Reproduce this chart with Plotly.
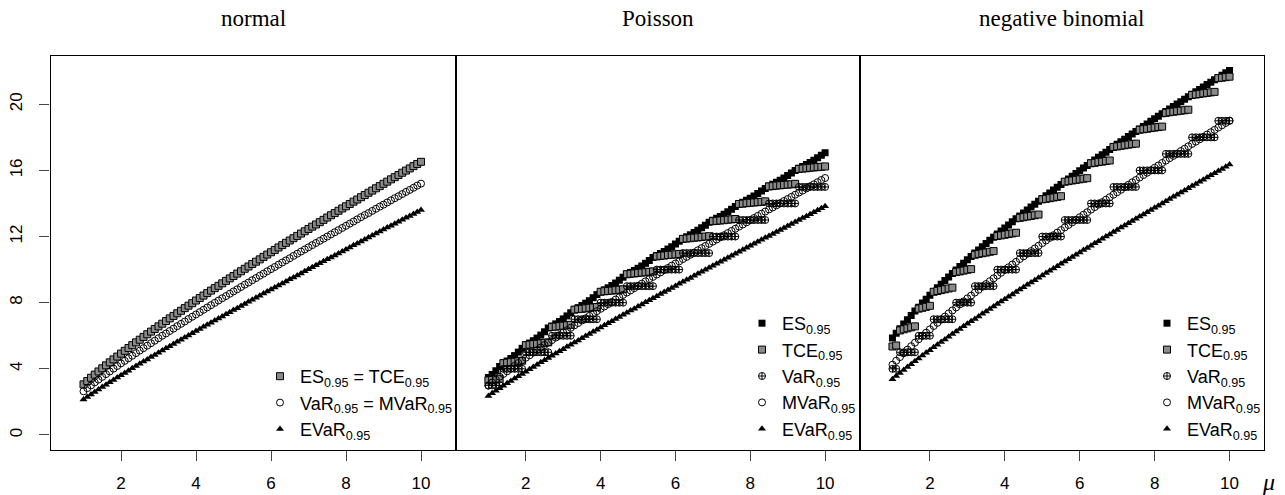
import plotly.graph_objects as go

# ---------------- data ----------------
mu = [1.0, 1.1, 1.2, 1.3, 1.4, 1.5, 1.6, 1.7, 1.8, 1.9,
      2.0, 2.1, 2.2, 2.3, 2.4, 2.5, 2.6, 2.7, 2.8, 2.9,
      3.0, 3.1, 3.2, 3.3, 3.4, 3.5, 3.6, 3.7, 3.8, 3.9,
      4.0, 4.1, 4.2, 4.3, 4.4, 4.5, 4.6, 4.7, 4.8, 4.9,
      5.0, 5.1, 5.2, 5.3, 5.4, 5.5, 5.6, 5.7, 5.8, 5.9,
      6.0, 6.1, 6.2, 6.3, 6.4, 6.5, 6.6, 6.7, 6.8, 6.9,
      7.0, 7.1, 7.2, 7.3, 7.4, 7.5, 7.6, 7.7, 7.8, 7.9,
      8.0, 8.1, 8.2, 8.3, 8.4, 8.5, 8.6, 8.7, 8.8, 8.9,
      9.0, 9.1, 9.2, 9.3, 9.4, 9.5, 9.6, 9.7, 9.8, 9.9,
      10.0]

# normal
normal_es = [3.06, 3.26, 3.46, 3.65, 3.84, 4.03, 4.21, 4.39, 4.57, 4.74,
             4.92, 5.09, 5.26, 5.43, 5.60, 5.76, 5.93, 6.09, 6.25, 6.41,
             6.57, 6.73, 6.89, 7.05, 7.20, 7.36, 7.51, 7.67, 7.82, 7.97,
             8.13, 8.28, 8.43, 8.58, 8.73, 8.88, 9.02, 9.17, 9.32, 9.47,
             9.61, 9.76, 9.90, 10.05, 10.19, 10.34, 10.48, 10.62, 10.77, 10.91,
             11.05, 11.19, 11.34, 11.48, 11.62, 11.76, 11.90, 12.04, 12.18, 12.32,
             12.46, 12.60, 12.73, 12.87, 13.01, 13.15, 13.29, 13.42, 13.56, 13.70,
             13.83, 13.97, 14.11, 14.24, 14.38, 14.51, 14.65, 14.78, 14.92, 15.05,
             15.19, 15.32, 15.46, 15.59, 15.72, 15.86, 15.99, 16.12, 16.26, 16.39,
             16.52]
normal_var = [2.64, 2.83, 3.00, 3.18, 3.35, 3.51, 3.68, 3.84, 4.01, 4.17,
              4.33, 4.48, 4.64, 4.79, 4.95, 5.10, 5.25, 5.40, 5.55, 5.70,
              5.85, 6.00, 6.14, 6.29, 6.43, 6.58, 6.72, 6.86, 7.01, 7.15,
              7.29, 7.43, 7.57, 7.71, 7.85, 7.99, 8.13, 8.27, 8.40, 8.54,
              8.68, 8.81, 8.95, 9.09, 9.22, 9.36, 9.49, 9.63, 9.76, 9.90,
              10.03, 10.16, 10.30, 10.43, 10.56, 10.69, 10.83, 10.96, 11.09, 11.22,
              11.35, 11.48, 11.61, 11.74, 11.87, 12.00, 12.13, 12.26, 12.39, 12.52,
              12.65, 12.78, 12.91, 13.04, 13.17, 13.30, 13.42, 13.55, 13.68, 13.81,
              13.93, 14.06, 14.19, 14.32, 14.44, 14.57, 14.70, 14.82, 14.95, 15.08,
              15.20]
normal_evar = [2.14, 2.30, 2.45, 2.60, 2.75, 2.90, 3.04, 3.19, 3.33, 3.47,
               3.61, 3.75, 3.89, 4.03, 4.17, 4.30, 4.44, 4.57, 4.71, 4.84,
               4.97, 5.11, 5.24, 5.37, 5.50, 5.63, 5.76, 5.89, 6.02, 6.15,
               6.28, 6.41, 6.54, 6.66, 6.79, 6.92, 7.05, 7.17, 7.30, 7.42,
               7.55, 7.67, 7.80, 7.92, 8.05, 8.17, 8.30, 8.42, 8.55, 8.67,
               8.79, 8.92, 9.04, 9.16, 9.28, 9.41, 9.53, 9.65, 9.77, 9.90,
               10.02, 10.14, 10.26, 10.38, 10.50, 10.62, 10.74, 10.86, 10.98, 11.10,
               11.22, 11.34, 11.47, 11.58, 11.70, 11.82, 11.94, 12.06, 12.18, 12.30,
               12.42, 12.54, 12.66, 12.78, 12.90, 13.01, 13.13, 13.25, 13.37, 13.49,
               13.61]

# Poisson
pois_es = [3.47, 3.65, 3.88, 4.14, 4.36, 4.48, 4.63, 4.80, 5.01, 5.24,
           5.45, 5.56, 5.70, 5.86, 6.04, 6.24, 6.47, 6.59, 6.72, 6.86,
           7.02, 7.20, 7.39, 7.59, 7.70, 7.83, 7.97, 8.12, 8.30, 8.49,
           8.67, 8.78, 8.90, 9.04, 9.19, 9.36, 9.54, 9.73, 9.83, 9.95,
           10.08, 10.22, 10.38, 10.55, 10.74, 10.86, 10.98, 11.10, 11.24, 11.39,
           11.55, 11.72, 11.88, 11.99, 12.11, 12.24, 12.38, 12.53, 12.69, 12.87,
           12.99, 13.10, 13.22, 13.35, 13.50, 13.65, 13.81, 13.98, 14.08, 14.20,
           14.32, 14.45, 14.60, 14.75, 14.91, 15.06, 15.17, 15.28, 15.41, 15.54,
           15.69, 15.84, 16.00, 16.13, 16.24, 16.36, 16.48, 16.62, 16.76, 16.91,
           17.07]
pois_tce = [3.30, 3.33, 3.36, 3.40, 4.34, 4.37, 4.40, 4.43, 4.46, 4.49,
            5.43, 5.46, 5.49, 5.51, 5.54, 5.57, 5.60, 6.53, 6.55, 6.58,
            6.61, 6.63, 6.66, 7.58, 7.61, 7.63, 7.66, 7.69, 7.71, 7.74,
            8.66, 8.69, 8.71, 8.73, 8.76, 8.78, 8.81, 9.72, 9.75, 9.77,
            9.79, 9.82, 9.84, 9.87, 9.89, 10.80, 10.83, 10.85, 10.88, 10.90,
            10.92, 10.95, 11.86, 11.88, 11.90, 11.93, 11.95, 11.97, 12.00, 12.02,
            12.93, 12.95, 12.97, 12.99, 13.02, 13.04, 13.06, 13.97, 13.99, 14.02,
            14.04, 14.06, 14.08, 14.10, 14.13, 15.03, 15.05, 15.08, 15.10, 15.12,
            15.14, 15.16, 15.19, 16.09, 16.11, 16.13, 16.16, 16.18, 16.20, 16.22,
            16.24]
pois_var = [3, 3, 3, 3, 4, 4, 4, 4, 4, 4,
            5, 5, 5, 5, 5, 5, 5, 6, 6, 6,
            6, 6, 6, 7, 7, 7, 7, 7, 7, 7,
            8, 8, 8, 8, 8, 8, 8, 9, 9, 9,
            9, 9, 9, 9, 9, 10, 10, 10, 10, 10,
            10, 10, 11, 11, 11, 11, 11, 11, 11, 11,
            12, 12, 12, 12, 12, 12, 12, 13, 13, 13,
            13, 13, 13, 13, 13, 14, 14, 14, 14, 14,
            14, 14, 14, 15, 15, 15, 15, 15, 15, 15,
            15]
pois_mvar = [2.98, 3.17, 3.34, 3.52, 3.69, 3.85, 4.02, 4.18, 4.35, 4.51,
             4.67, 4.82, 4.98, 5.13, 5.29, 5.44, 5.59, 5.74, 5.89, 6.04,
             6.19, 6.34, 6.48, 6.63, 6.77, 6.92, 7.06, 7.20, 7.35, 7.49,
             7.63, 7.77, 7.91, 8.05, 8.19, 8.33, 8.47, 8.61, 8.74, 8.88,
             9.02, 9.15, 9.29, 9.43, 9.56, 9.70, 9.83, 9.97, 10.10, 10.24,
             10.37, 10.50, 10.64, 10.77, 10.90, 11.03, 11.17, 11.30, 11.43, 11.56,
             11.69, 11.82, 11.95, 12.08, 12.21, 12.34, 12.47, 12.60, 12.73, 12.86,
             12.99, 13.12, 13.25, 13.38, 13.51, 13.64, 13.76, 13.89, 14.02, 14.15,
             14.27, 14.40, 14.53, 14.66, 14.78, 14.91, 15.04, 15.16, 15.29, 15.42,
             15.54]
pois_evar = [2.36, 2.52, 2.67, 2.82, 2.97, 3.12, 3.26, 3.41, 3.55, 3.69,
             3.83, 3.97, 4.11, 4.25, 4.39, 4.52, 4.66, 4.79, 4.93, 5.06,
             5.19, 5.33, 5.46, 5.59, 5.72, 5.85, 5.98, 6.11, 6.24, 6.37,
             6.50, 6.63, 6.76, 6.88, 7.01, 7.14, 7.27, 7.39, 7.52, 7.64,
             7.77, 7.89, 8.02, 8.14, 8.27, 8.39, 8.52, 8.64, 8.77, 8.89,
             9.01, 9.14, 9.26, 9.38, 9.50, 9.63, 9.75, 9.87, 9.99, 10.12,
             10.24, 10.36, 10.48, 10.60, 10.72, 10.84, 10.96, 11.08, 11.20, 11.32,
             11.44, 11.56, 11.69, 11.80, 11.92, 12.04, 12.16, 12.28, 12.40, 12.52,
             12.64, 12.76, 12.88, 13.00, 13.12, 13.23, 13.35, 13.47, 13.59, 13.71,
             13.83]

# negative binomial
nb_es = [5.86, 6.15, 6.43, 6.71, 6.97, 7.23, 7.49, 7.73, 7.98, 8.21,
         8.45, 8.68, 8.90, 9.12, 9.34, 9.56, 9.77, 9.98, 10.19, 10.39,
         10.60, 10.80, 11.00, 11.19, 11.39, 11.58, 11.77, 11.96, 12.15, 12.34,
         12.52, 12.70, 12.89, 13.07, 13.25, 13.43, 13.60, 13.78, 13.95, 14.13,
         14.30, 14.47, 14.64, 14.81, 14.98, 15.15, 15.32, 15.48, 15.65, 15.81,
         15.98, 16.14, 16.30, 16.47, 16.63, 16.79, 16.95, 17.10, 17.26, 17.42,
         17.58, 17.73, 17.89, 18.05, 18.20, 18.35, 18.51, 18.66, 18.81, 18.97,
         19.12, 19.27, 19.42, 19.57, 19.72, 19.87, 20.01, 20.16, 20.31, 20.46,
         20.60, 20.75, 20.90, 21.04, 21.19, 21.33, 21.48, 21.62, 21.76, 21.91,
         22.05]
nb_tce = [5.35, 5.41, 6.32, 6.39, 6.45, 6.51, 6.57, 7.64, 7.69, 7.75,
          7.81, 8.66, 8.71, 8.76, 8.81, 8.86, 8.91, 9.85, 9.89, 9.94,
          9.99, 10.03, 10.90, 10.95, 10.99, 11.03, 11.08, 11.12, 12.03, 12.07,
          12.11, 12.15, 12.19, 12.23, 13.13, 13.17, 13.21, 13.25, 13.29, 13.33,
          14.25, 14.28, 14.32, 14.36, 14.40, 14.44, 15.32, 15.35, 15.39, 15.43,
          15.46, 15.50, 15.53, 16.43, 16.46, 16.50, 16.53, 16.57, 16.60, 17.42,
          17.45, 17.49, 17.52, 17.56, 17.59, 17.62, 18.46, 18.49, 18.52, 18.56,
          18.59, 18.62, 18.65, 19.48, 19.52, 19.55, 19.58, 19.61, 19.64, 19.67,
          20.56, 20.59, 20.62, 20.66, 20.69, 20.72, 20.75, 21.58, 21.61, 21.64,
          21.67]
nb_var = [4, 4, 5, 5, 5, 5, 5, 6, 6, 6,
          6, 7, 7, 7, 7, 7, 7, 8, 8, 8,
          8, 8, 9, 9, 9, 9, 9, 9, 10, 10,
          10, 10, 10, 10, 11, 11, 11, 11, 11, 11,
          12, 12, 12, 12, 12, 12, 13, 13, 13, 13,
          13, 13, 13, 14, 14, 14, 14, 14, 14, 15,
          15, 15, 15, 15, 15, 15, 16, 16, 16, 16,
          16, 16, 16, 17, 17, 17, 17, 17, 17, 17,
          18, 18, 18, 18, 18, 18, 18, 19, 19, 19,
          19]
nb_mvar = [4.25, 4.49, 4.71, 4.94, 5.16, 5.37, 5.58, 5.79, 5.99, 6.19,
           6.39, 6.59, 6.78, 6.97, 7.16, 7.35, 7.53, 7.71, 7.90, 8.08,
           8.26, 8.43, 8.61, 8.78, 8.96, 9.13, 9.30, 9.47, 9.64, 9.81,
           9.98, 10.14, 10.31, 10.47, 10.64, 10.80, 10.96, 11.12, 11.28, 11.44,
           11.60, 11.76, 11.92, 12.08, 12.24, 12.39, 12.55, 12.70, 12.86, 13.01,
           13.17, 13.32, 13.47, 13.63, 13.78, 13.93, 14.08, 14.23, 14.38, 14.53,
           14.68, 14.83, 14.98, 15.13, 15.28, 15.42, 15.57, 15.72, 15.86, 16.01,
           16.16, 16.30, 16.45, 16.59, 16.74, 16.88, 17.02, 17.17, 17.31, 17.46,
           17.60, 17.74, 17.88, 18.03, 18.17, 18.31, 18.45, 18.59, 18.73, 18.87,
           19.01]
nb_evar = [3.37, 3.56, 3.75, 3.93, 4.11, 4.28, 4.46, 4.63, 4.80, 4.97,
           5.13, 5.30, 5.46, 5.62, 5.78, 5.94, 6.10, 6.26, 6.41, 6.57,
           6.72, 6.87, 7.02, 7.17, 7.33, 7.47, 7.62, 7.77, 7.92, 8.07,
           8.21, 8.36, 8.50, 8.65, 8.79, 8.94, 9.08, 9.22, 9.36, 9.51,
           9.65, 9.79, 9.93, 10.07, 10.21, 10.35, 10.49, 10.63, 10.76, 10.90,
           11.04, 11.18, 11.31, 11.45, 11.59, 11.72, 11.86, 12.00, 12.13, 12.27,
           12.40, 12.54, 12.67, 12.80, 12.94, 13.07, 13.21, 13.34, 13.47, 13.60,
           13.74, 13.87, 14.00, 14.13, 14.27, 14.40, 14.53, 14.66, 14.79, 14.92,
           15.05, 15.18, 15.31, 15.44, 15.57, 15.70, 15.83, 15.96, 16.09, 16.22,
           16.35]

panel_titles = ["normal", "Poisson", "negative binomial"]
x_ticks = [2, 4, 6, 8, 10]
y_ticks = [0, 4, 8, 12, 16, 20]
SUB = "<sub>0.95</sub>"

# ---------------- styles ----------------
MS = 7
STYLES = {
    "black_sq": dict(symbol="square", size=MS, color="black", line=dict(width=0)),
    "grey_sq": dict(symbol="square", size=MS, color="#8a8a8a", line=dict(color="black", width=1)),
    "oplus": dict(symbol="circle-cross-open", size=MS, color="black", line=dict(width=1)),
    "ocircle": dict(symbol="circle-open", size=MS, color="black", line=dict(width=1)),
    "tri": dict(symbol="triangle-up", size=MS, color="black", line=dict(width=0)),
}

fig = go.Figure()


def add(y, name, style, k):
    sfx = "" if k == 1 else str(k)
    fig.add_trace(go.Scatter(
        x=mu, y=y, mode="markers", name=name,
        marker=STYLES[style],
        xaxis="x" + sfx, yaxis="y" + sfx,
        legend="legend" + sfx, showlegend=True, hoverinfo="skip"))


add(normal_es, "ES" + SUB + " = TCE" + SUB, "grey_sq", 1)
add(normal_var, "VaR" + SUB + " = MVaR" + SUB, "ocircle", 1)
add(normal_evar, "EVaR" + SUB, "tri", 1)

for k, (es, tce, var, mvar, evar) in ((2, (pois_es, pois_tce, pois_var, pois_mvar, pois_evar)),
                                      (3, (nb_es, nb_tce, nb_var, nb_mvar, nb_evar))):
    add(es, "ES" + SUB, "black_sq", k)
    add(tce, "TCE" + SUB, "grey_sq", k)
    add(var, "VaR" + SUB, "oplus", k)
    add(mvar, "MVaR" + SUB, "ocircle", k)
    add(evar, "EVaR" + SUB, "tri", k)

# ---------------- layout ----------------
W, H = 1285, 495
left_px = [50.5, 455.5, 859.5]
right_px = [455.5, 859.5, 1264.0]
top_px, bot_px = 55.5, 450.0
ydom = [(H - bot_px) / H, (H - top_px) / H]

TICKFONT = dict(family="Liberation Sans, Arial, sans-serif", size=17, color="black")
layout = dict(
    width=W, height=H, margin=dict(l=0, r=0, t=0, b=0, autoexpand=False),
    paper_bgcolor="white", plot_bgcolor="white",
    font=dict(family="Liberation Sans, Arial, sans-serif", color="black"),
)
for i in range(3):
    sfx = "" if i == 0 else str(i + 1)
    layout["xaxis" + sfx] = dict(
        domain=[left_px[i] / W, right_px[i] / W], range=[0.12, 10.92],
        anchor="y" + sfx, showgrid=False, zeroline=False, automargin=False,
        showline=True, mirror=True, linecolor="black", linewidth=1.2,
        tickmode="array", tickvals=x_ticks, ticks="outside", ticklen=10,
        tickwidth=1.3, tickcolor="#444", tickfont=TICKFONT, ticklabelstandoff=7,
    )
    layout["yaxis" + sfx] = dict(
        domain=ydom, range=[-0.91, 22.95], anchor="x" + sfx,
        showgrid=False, zeroline=False, automargin=False,
        showline=True, mirror=True, linecolor="black", linewidth=1.2,
        tickmode="array", tickvals=y_ticks,
        ticks="outside" if i == 0 else "", ticklen=10, tickwidth=1.3, tickcolor="#444",
        showticklabels=(i == 0), tickangle=-90, tickfont=TICKFONT, ticklabelstandoff=11,
    )

LEGFONT = dict(family="Liberation Sans, Arial, sans-serif", size=18, color="black")
leg_common = dict(xanchor="left", yanchor="top", bgcolor="rgba(0,0,0,0)",
                  borderwidth=0, font=LEGFONT, itemsizing="trace", tracegroupgap=0)
layout["legend"] = dict(x=(280 - 20) / W, y=(H - 358) / H, **leg_common)
layout["legend2"] = dict(x=(762 - 20) / W, y=(H - 305) / H, **leg_common)
layout["legend3"] = dict(x=(1167 - 20) / W, y=(H - 305) / H, **leg_common)

annotations = []
for i, t in enumerate(panel_titles):
    annotations.append(dict(
        text=t, xref="paper", yref="paper",
        x=(left_px[i] + right_px[i]) / 2 / W, y=(H - 18) / H,
        xanchor="center", yanchor="middle", showarrow=False,
        font=dict(family="Liberation Serif, Times New Roman, serif", size=23, color="black")))
annotations.append(dict(
    text="<i>μ</i>", xref="paper", yref="paper", x=1268 / W, y=(H - 482) / H,
    xanchor="center", yanchor="middle", showarrow=False,
    font=dict(family="Liberation Serif, Times New Roman, serif", size=24, color="black")))
layout["annotations"] = annotations

fig.update_layout(**layout)
fig.write_html("out.html")
